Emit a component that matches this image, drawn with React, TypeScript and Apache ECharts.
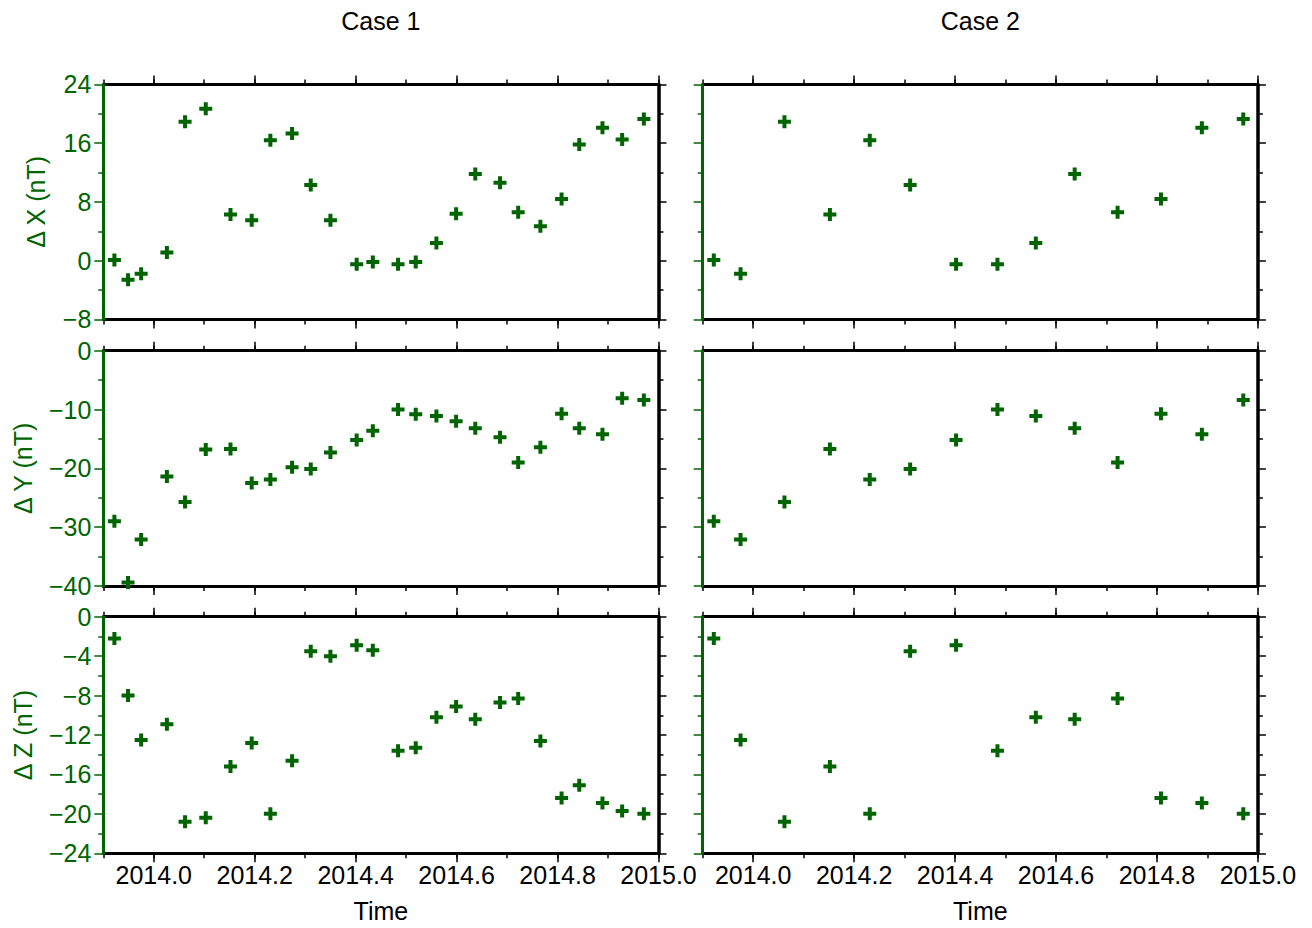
import React, { useEffect, useRef } from "react";
import * as echarts from "echarts";

// ---------- data ----------
const caseTitles = ["Case 1", "Case 2"];
const rowNames = ["Δ X (nT)", "Δ Y (nT)", "Δ Z (nT)"];
const xTickValues = [2014.0, 2014.2, 2014.4, 2014.6, 2014.8, 2015.0];
const xMin = 2013.9;
const xMax = 2015.0;
const yMins = [-8, -40, -24];
const yMaxs = [24, 0, 0];
const yIntervals = [8, 10, 4];

const timeCase1 = [2013.922, 2013.949, 2013.975, 2014.026, 2014.062, 2014.103, 2014.152, 2014.194, 2014.231, 2014.274, 2014.311, 2014.35, 2014.402, 2014.434, 2014.484, 2014.519, 2014.56, 2014.599, 2014.637, 2014.686, 2014.722, 2014.766, 2014.808, 2014.843, 2014.889, 2014.928, 2014.971];
const dXCase1 = [0.1, -2.6, -1.8, 1.1, 18.9, 20.7, 6.3, 5.5, 16.4, 17.3, 10.3, 5.5, -0.5, -0.2, -0.5, -0.2, 2.4, 6.4, 11.8, 10.6, 6.6, 4.7, 8.4, 15.8, 18.1, 16.5, 19.3];
const dYCase1 = [-29.0, -39.4, -32.1, -21.4, -25.7, -16.8, -16.7, -22.5, -21.9, -19.8, -20.1, -17.3, -15.2, -13.6, -10.0, -10.8, -11.1, -12.0, -13.2, -14.7, -19.0, -16.4, -10.7, -13.2, -14.2, -8.1, -8.4];
const dZCase1 = [-2.2, -8.0, -12.5, -10.9, -20.8, -20.4, -15.2, -12.8, -20.0, -14.6, -3.5, -4.0, -2.9, -3.4, -13.6, -13.3, -10.2, -9.1, -10.4, -8.7, -8.3, -12.6, -18.4, -17.1, -18.9, -19.7, -20.0];

const timeCase2 = [2013.922, 2013.975, 2014.062, 2014.152, 2014.231, 2014.311, 2014.402, 2014.484, 2014.56, 2014.637, 2014.722, 2014.808, 2014.889, 2014.971];
const dXCase2 = [0.1, -1.8, 18.9, 6.3, 16.4, 10.3, -0.5, -0.5, 2.4, 11.8, 6.6, 8.4, 18.1, 19.3];
const dYCase2 = [-29.0, -32.1, -25.7, -16.7, -21.9, -20.1, -15.2, -10.0, -11.1, -13.2, -19.0, -10.7, -14.2, -8.4];
const dZCase2 = [-2.2, -12.5, -20.8, -15.2, -20.0, -3.5, -2.9, -13.6, -10.2, -10.4, -8.3, -18.4, -18.9, -20.0];

// ---------- layout / style ----------
const GREEN = "#006400";
const FONT = "'Liberation Sans', Arial, Helvetica, sans-serif";
const FS = 25;
const colLeft = [103.3, 702.7];
const colWidth = 555.2;
const rowTop = [84.4, 350.7, 616.7];
const rowHeight = [235.0, 235.3, 236.6];
const rowNameGap = [55, 68, 68];
const PLUS = "path://M4.5,0H8.5V4.5H13V8.5H8.5V13H4.5V8.5H0V4.5H4.5Z";

const minusFmt = (v: number) => String(v).replace("-", "\u2212");

function buildOption() {
  const times = [timeCase1, timeCase2];
  const vals = [
    [dXCase1, dXCase2],
    [dYCase1, dYCase2],
    [dZCase1, dZCase2],
  ];
  const grid: any[] = [];
  const xAxis: any[] = [];
  const yAxis: any[] = [];
  const series: any[] = [];
  for (let r = 0; r < 3; r++) {
    for (let c = 0; c < 2; c++) {
      const gi = r * 2 + c;
      grid.push({
        left: colLeft[c],
        top: rowTop[r],
        width: colWidth,
        height: rowHeight[r],
        containLabel: false,
        outerBoundsMode: "none",
      });
      const common = { type: "value", gridIndex: gi, min: xMin, max: xMax, splitLine: { show: false } };
      // bottom major
      xAxis.push({
        ...common,
        position: "bottom",
        splitNumber: 5,
        axisLine: { show: true, onZero: false, lineStyle: { color: "#000", width: 3 } },
        axisTick: { show: true, length: 9, customValues: xTickValues, lineStyle: { color: "#000", width: 1.5 } },
        axisLabel: {
          show: r === 2,
          customValues: xTickValues,
          fontSize: FS,
          fontFamily: FONT,
          color: "#000",
          margin: 9,
          formatter: (v: number) => (Math.abs(v - xMin) < 1e-6 ? "" : v.toFixed(1)),
        },
        name: r === 2 ? "Time" : "",
        nameLocation: "middle",
        nameGap: 45,
        nameTextStyle: { fontSize: FS, fontFamily: FONT, color: "#000" },
      });
      // bottom minor
      xAxis.push({
        ...common,
        position: "bottom",
        interval: 0.1,
        axisLine: { show: false, onZero: false },
        axisTick: { show: true, length: 5, lineStyle: { color: "#000", width: 1.5 } },
        axisLabel: { show: false },
      });
      // top major
      xAxis.push({
        ...common,
        position: "top",
        splitNumber: 5,
        axisLine: { show: true, onZero: false, lineStyle: { color: "#000", width: 3 } },
        axisTick: { show: true, length: 9, customValues: xTickValues, lineStyle: { color: "#000", width: 1.5 } },
        axisLabel: { show: false },
      });
      // top minor
      xAxis.push({
        ...common,
        position: "top",
        interval: 0.1,
        axisLine: { show: false, onZero: false },
        axisTick: { show: true, length: 5, lineStyle: { color: "#000", width: 1.5 } },
        axisLabel: { show: false },
      });
      // left
      yAxis.push({
        type: "value",
        gridIndex: gi,
        position: "left",
        min: yMins[r],
        max: yMaxs[r],
        interval: yIntervals[r],
        z: 3,
        splitLine: { show: false },
        axisLine: { show: true, onZero: false, lineStyle: { color: GREEN, width: 3 } },
        axisTick: { show: true, length: 9, lineStyle: { color: GREEN, width: 1.5 } },
        minorTick: { show: true, splitNumber: 2, length: 5, lineStyle: { color: GREEN, width: 1.5 } },
        axisLabel: { show: c === 0, fontSize: FS, fontFamily: FONT, color: GREEN, margin: 12, formatter: minusFmt },
        name: c === 0 ? rowNames[r] : "",
        nameLocation: "middle",
        nameGap: rowNameGap[r],
        nameRotate: 90,
        nameTextStyle: { fontSize: FS, fontFamily: FONT, color: GREEN },
      });
      // right
      yAxis.push({
        type: "value",
        gridIndex: gi,
        position: "right",
        min: yMins[r],
        max: yMaxs[r],
        interval: yIntervals[r],
        splitLine: { show: false },
        axisLine: { show: true, onZero: false, lineStyle: { color: "#000", width: 3.5 } },
        axisTick: { show: true, length: 8, lineStyle: { color: "#000", width: 1.5 } },
        minorTick: { show: true, splitNumber: 2, length: 5, lineStyle: { color: "#000", width: 1.5 } },
        axisLabel: { show: false },
      });
      const t = times[c];
      const v = vals[r][c];
      series.push({
        type: "scatter",
        xAxisIndex: gi * 4,
        yAxisIndex: gi * 2,
        symbol: PLUS,
        symbolSize: 13,
        itemStyle: { color: GREEN, opacity: 1 },
        data: t.map((tt, i) => [tt, v[i]]),
        z: 4,
      });
    }
  }
  const graphic = caseTitles.map((txt, c) => ({
    type: "text",
    x: colLeft[c] + colWidth / 2,
    y: 21,
    style: { text: txt, fontSize: FS, fontFamily: FONT, fill: "#000", textAlign: "center", textVerticalAlign: "middle" },
  }));
  return {
    animation: false,
    backgroundColor: "#fff",
    textStyle: { fontFamily: FONT },
    grid,
    xAxis,
    yAxis,
    series,
    graphic,
  };
}

export default function App() {
  const ref = useRef<HTMLDivElement>(null);
  useEffect(() => {
    if (!ref.current) return;
    const chart = echarts.init(ref.current, undefined, { renderer: "svg" });
    chart.setOption(buildOption() as any);
    return () => chart.dispose();
  }, []);
  return <div ref={ref} style={{ position: "fixed", left: 0, top: 0, width: 1312, height: 928, background: "#fff" }} />;
}
